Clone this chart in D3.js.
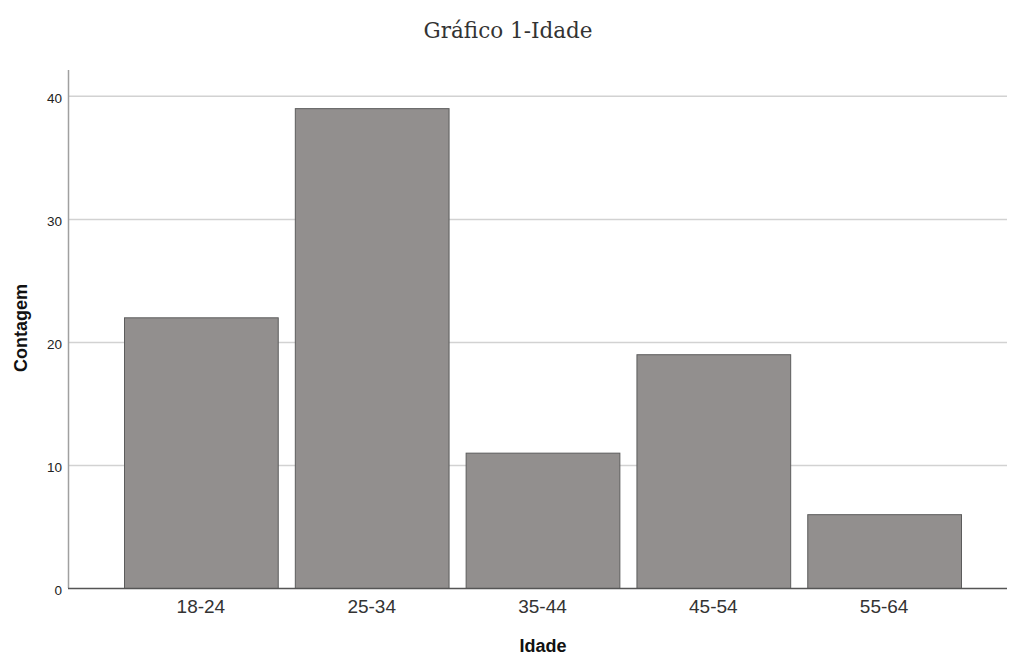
<!DOCTYPE html>
<html><head><meta charset="utf-8">
<script src="https://cdn.jsdelivr.net/npm/d3@7"></script>
<style>body{margin:0;background:#fff}svg{display:block}</style>
</head><body>
<svg id="c" width="1009" height="655"></svg>
<script>
const categories = ["18-24","25-34","35-44","45-54","55-64"];
const counts = [22, 39, 11, 19, 6];
const yTicks = [0, 10, 20, 30, 40];
const title = "Gráfico 1-Idade";
const xTitle = "Idade";
const yTitle = "Contagem";

const svg = d3.select("#c");
const mLeft = 68, mRight = 1007, mTop = 70, mBottom = 588;
const sans = "Arial, 'Liberation Sans', sans-serif";

const x = d3.scaleBand().domain(categories).range([124, 961]).paddingInner(0.1).paddingOuter(0);
const y = d3.scaleLinear().domain([0, 42.1]).range([mBottom, mTop]);

// gridlines
svg.append("g").selectAll("line").data(yTicks.filter(d => d > 0)).join("line")
  .attr("x1", mLeft).attr("x2", mRight)
  .attr("y1", d => y(d) + 0.5).attr("y2", d => y(d) + 0.5)
  .attr("stroke", "#d2d2d2").attr("stroke-width", 1.5);

// bars
svg.append("g").selectAll("rect").data(categories).join("rect")
  .attr("x", d => x(d) + 0.5)
  .attr("y", (d, i) => y(counts[i]) + 0.5)
  .attr("width", x.bandwidth())
  .attr("height", (d, i) => y(0) - y(counts[i]))
  .attr("fill", "#928f8e").attr("stroke", "#5c5c5c").attr("stroke-width", 1);

// y axis
const ya = svg.append("g").attr("transform", `translate(${mLeft},0)`)
  .call(d3.axisLeft(y).tickValues(yTicks).tickSize(0).tickPadding(6).tickFormat(d3.format("d")));
ya.select(".domain").remove();
ya.selectAll("text").attr("font-family", sans).attr("font-size", 13.5).attr("fill", "#222").attr("dy", "0.5em");
svg.append("line").attr("x1", mLeft + 0.5).attr("x2", mLeft + 0.5).attr("y1", mTop).attr("y2", mBottom)
  .attr("stroke", "#a0a0a0").attr("stroke-width", 1.5);

// x axis
const xa = svg.append("g").attr("transform", `translate(0,${mBottom})`)
  .call(d3.axisBottom(x).tickSize(0).tickPadding(12));
xa.select(".domain").remove();
xa.selectAll("text").attr("font-family", sans).attr("font-size", 19).attr("fill", "#333");
svg.append("line").attr("x1", mLeft).attr("x2", mRight).attr("y1", mBottom + 0.5).attr("y2", mBottom + 0.5)
  .attr("stroke", "#555").attr("stroke-width", 1.5);

// titles
svg.append("text").attr("x", 508).attr("y", 38).attr("text-anchor", "middle")
  .attr("font-family", "'DejaVu Serif', 'Liberation Serif', serif").attr("font-size", 21.5).attr("fill", "#333").text(title);
svg.append("text").attr("x", 543).attr("y", 652).attr("text-anchor", "middle")
  .attr("font-family", sans).attr("font-weight", "bold").attr("font-size", 18).attr("fill", "#111").text(xTitle);
svg.append("text").attr("transform", "translate(27,328) rotate(-90)").attr("text-anchor", "middle")
  .attr("font-family", sans).attr("font-weight", "bold").attr("font-size", 18).attr("fill", "#111").text(yTitle);
</script>
</body></html>
